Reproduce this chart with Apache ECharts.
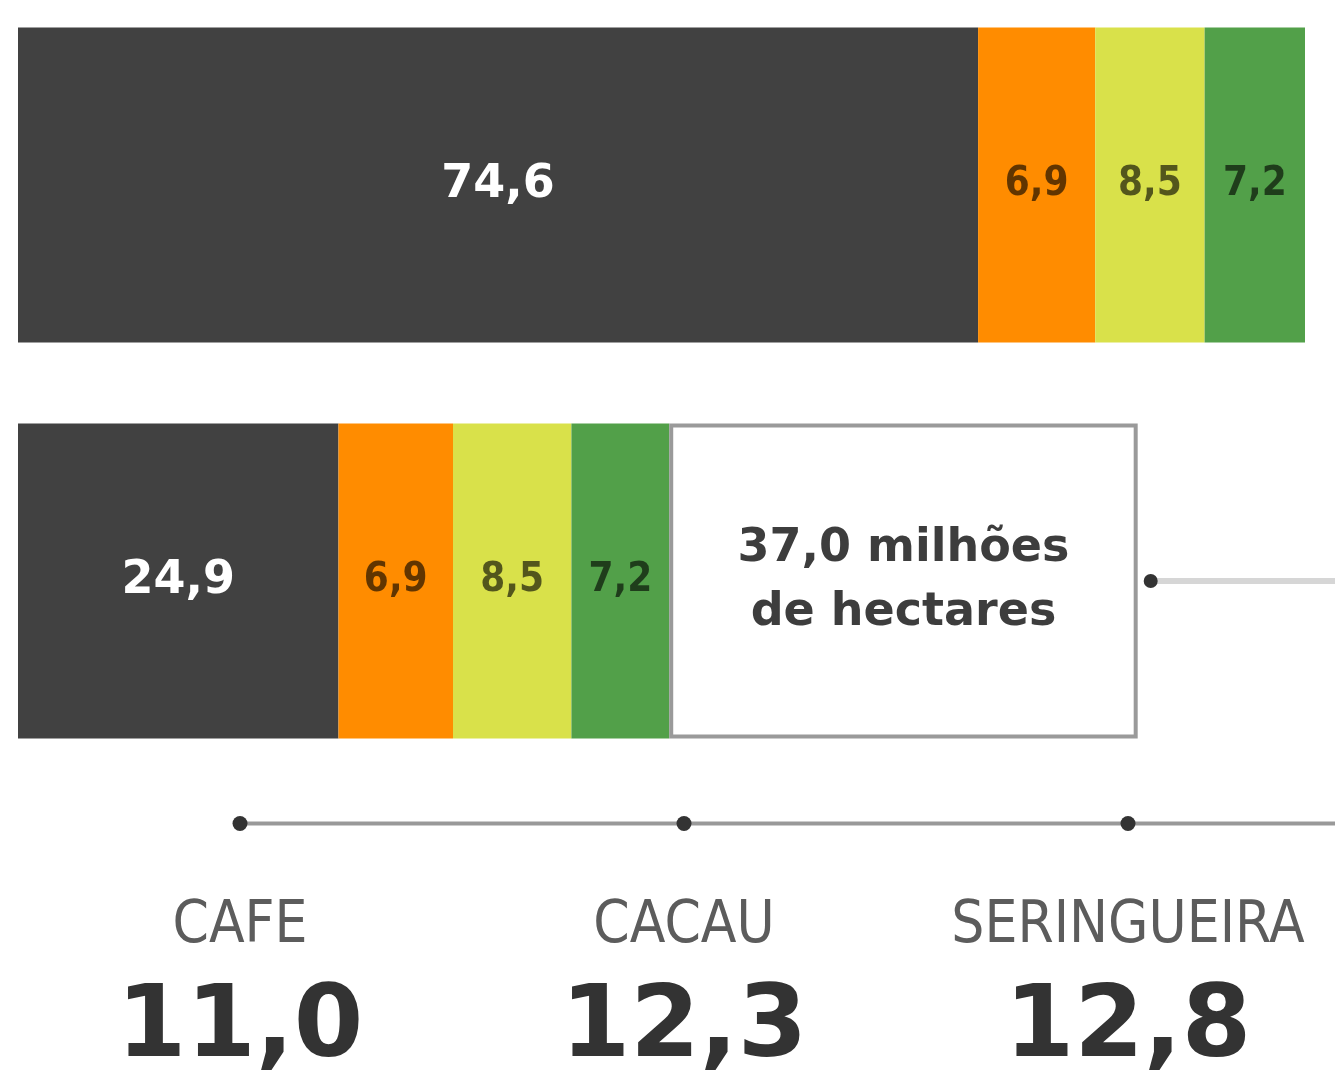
<!DOCTYPE html>
<html>
<head>
<meta charset="utf-8">
<title>Área</title>
<script src="https://cdn.jsdelivr.net/npm/echarts/dist/echarts.min.js"></script>
<style>
html, body { margin: 0; padding: 0; background: #fff; }
#main { width: 1335px; height: 1070px; }
</style>
</head>
<body>
<div id="main"></div>
<script>
// comprimentos das faixas como aparecem no desenho (mesma escala do eixo)
var barRows = [ "Total", "Atual" ];
var topValues = [ 74.6, 9.1, 8.5, 7.8 ];
var topLabels = [ "74,6", "6,9", "8,5", "7,2" ];
var bottomValues = [ 24.9, 8.9, 9.2, 7.6, 36.4 ];
var bottomLabels = [ "24,9", "6,9", "8,5", "7,2", "37,0 milhões\nde hectares" ];
var segColors = [ "#414141", "#ff8c00", "#d9e14a", "#52a049", "#ffffff" ];

// culturas
var cropNames = [ "CAFE", "CACAU", "SERINGUEIRA" ];
var cropValues = [ "11,0", "12,3", "12,8" ];

var myChart = echarts.init(document.getElementById("main"), null, {
	renderer : "canvas"
});

var darkLabel = {
	show : true,
	position : "inside",
	color : "#ffffff",
	fontFamily : "DejaVu Sans",
	fontWeight : "bold",
	fontSize : 46
};
var smallLabel = {
	show : true,
	position : "inside",
	color : "rgba(0,0,0,0.62)",
	fontFamily : "DejaVu Sans Condensed",
	fontWeight : "bold",
	fontSize : 40
};
var boxLabel = {
	show : true,
	position : "inside",
	color : "#3d3d3d",
	fontFamily : "DejaVu Sans",
	fontWeight : "bold",
	fontSize : 46,
	lineHeight : 64
};

var barSeries = [];
for (var i = 0; i < 5; i++) {
	var lbl = i == 0 ? darkLabel : (i == 4 ? boxLabel : smallLabel);
	barSeries.push({
		type : "bar",
		stack : "area",
		xAxisIndex : 0,
		yAxisIndex : 0,
		barWidth : 315,
		clip : false,
		data : [ i < 4 ? topValues[i] : "-", bottomValues[i] ],
		itemStyle : i == 4 ? {
			color : "#ffffff",
			borderColor : "#9a9a9a",
			borderWidth : 4
		} : {
			color : segColors[i]
		},
		label : echarts.util.extend({
			formatter : (function(k) {
				return function(p) {
					return p.dataIndex == 0 ? topLabels[k] : bottomLabels[k];
				};
			})(i)
		}, lbl)
	});
}

var option = {
	backgroundColor : "#ffffff",
	animation : false,
	grid : [ {
		left : 18,
		right : 30,
		top : 185,
		height : 396
	}, {
		left : 240,
		right : 207,
		top : 821,
		height : 20
	} ],
	xAxis : [ {
		type : "value",
		gridIndex : 0,
		min : 0,
		max : 100,
		show : false
	}, {
		type : "category",
		gridIndex : 1,
		boundaryGap : false,
		data : cropNames,
		axisLine : { show : false },
		axisTick : { show : false },
		axisLabel : {
			interval : 0,
			margin : 71,
			formatter : function(v, idx) {
				return "{n|" + v + "}\n{v|" + cropValues[idx] + "}";
			},
			rich : {
				n : {
					fontFamily : "DejaVu Sans Condensed",
					fontSize : 58,
					color : "#5c5c5c",
					lineHeight : 60
				},
				v : {
					fontFamily : "DejaVu Sans",
					fontWeight : "bold",
					fontSize : 100,
					color : "#333333",
					lineHeight : 146
				}
			}
		}
	} ],
	yAxis : [ {
		type : "category",
		gridIndex : 0,
		inverse : true,
		boundaryGap : false,
		data : barRows,
		show : false
	}, {
		type : "value",
		gridIndex : 1,
		min : -1,
		max : 1,
		show : false
	} ],
	series : barSeries.concat([ {
		type : "line",
		xAxisIndex : 1,
		yAxisIndex : 1,
		data : cropNames.map(function() { return 0; }),
		symbol : "circle",
		symbolSize : 15,
		itemStyle : { color : "#333333" },
		lineStyle : { color : "#999999", width : 4 },
		z : 5
	} ])
};
myChart.setOption(option);

// ligações: caixa -> direita, e linha das culturas até a borda
var total = 0;
bottomValues.forEach(function(v) { total += v; });
var boxEnd = myChart.convertToPixel({ xAxisIndex : 0, yAxisIndex : 0 }, [ total, 1 ]);
var lastDot = myChart.convertToPixel({ xAxisIndex : 1, yAxisIndex : 1 }, [ cropNames.length - 1, 0 ]);
myChart.setOption({
	graphic : [ {
		type : "line",
		shape : { x1 : boxEnd[0] + 12, y1 : boxEnd[1], x2 : 1335, y2 : boxEnd[1] },
		style : { stroke : "#d6d6d6", lineWidth : 6 },
		z : 1
	}, {
		type : "circle",
		shape : { cx : boxEnd[0] + 13, cy : boxEnd[1], r : 7 },
		style : { fill : "#333333" },
		z : 2
	}, {
		type : "line",
		shape : { x1 : lastDot[0], y1 : lastDot[1], x2 : 1335, y2 : lastDot[1] },
		style : { stroke : "#999999", lineWidth : 4 },
		z : 1
	} ]
});
</script>
</body>
</html>
